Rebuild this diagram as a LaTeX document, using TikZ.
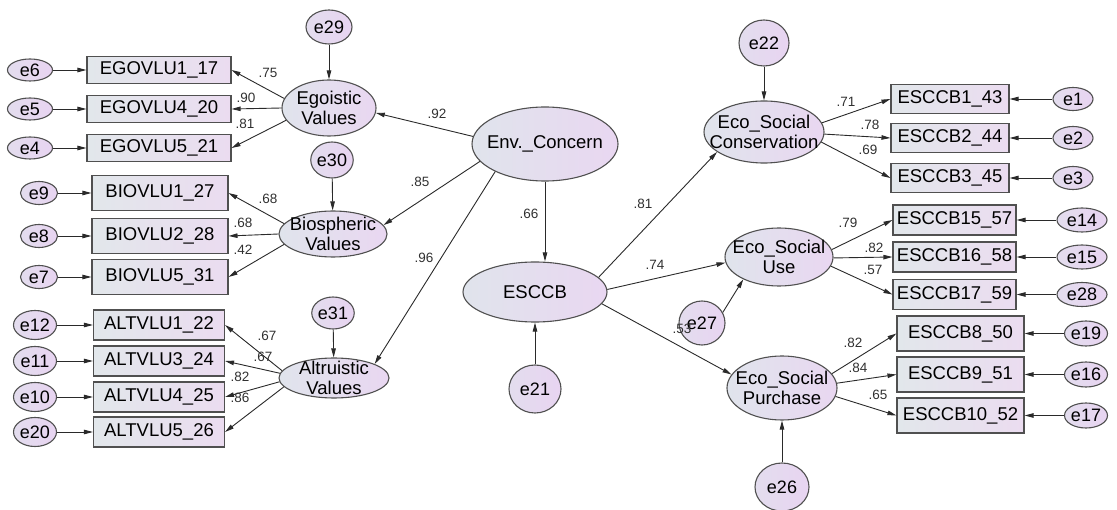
\documentclass[tikz,border=0pt]{standalone}
\usepackage{fontspec}
\setmainfont{Liberation Sans}
\usetikzlibrary{shapes.geometric,arrows.meta}

\definecolor{boxL}{HTML}{E2E7EB}
\definecolor{boxR}{HTML}{EBDCF0}
\definecolor{latL}{HTML}{E0E4EC}
\definecolor{latR}{HTML}{E9D7F1}
\definecolor{errL}{HTML}{E3DDEE}
\definecolor{errR}{HTML}{E8D4F1}
\definecolor{bordC}{HTML}{505050}
\definecolor{lineC}{HTML}{2A2A2A}
\definecolor{coefC}{HTML}{303030}

\tikzset{
  path/.style={draw=lineC, line width=0.9pt, -{Triangle[length=9pt,width=4.5pt]}},
  obsbox/.style={rectangle, draw=bordC, line width=1.1pt, left color=boxL, right color=boxR,
    inner sep=0pt, font=\fontsize{18.5}{20}\selectfont},
  latent/.style={ellipse, draw=bordC, line width=1.1pt, left color=latL, right color=latR, inner sep=0pt},
  lname/.style={align=center, inner sep=0pt, font=\fontsize{18.5}{20}\selectfont},
  errc/.style={ellipse, draw=bordC, line width=1.1pt, left color=errL, right color=errR,
    inner sep=0pt, font=\fontsize{18}{20}\selectfont},
  coef/.style={inner sep=0pt, text=coefC, font=\fontsize{13.5}{15}\selectfont},
}

\begin{document}
\begin{tikzpicture}[x=1pt,y=-1pt]
\useasboundingbox (0,0) rectangle (1117,510);

% ---------- latent variables ----------
\node[latent, minimum width=94pt, minimum height=56pt, label={[lname]center:{Egoistic\\Values}}] (ego) at (329,108) {};
\node[latent, minimum width=108pt, minimum height=46pt, label={[lname]center:{Biospheric\\Values}}] (bio) at (333,234) {};
\node[latent, minimum width=110pt, minimum height=40pt, label={[lname]center:{Altruistic\\Values}}] (alt) at (334,378) {};
\node[latent, minimum width=146pt, minimum height=74pt, label={[lname]center:{Env.\_Concern}}] (env) at (545,144) {};
\node[latent, minimum width=144pt, minimum height=60pt, label={[lname]center:{ESCCB}}] (esccb) at (535,292) {};
\node[latent, minimum width=120pt, minimum height=62pt, label={[lname]center:{Eco\_Social\\Conservation}}] (cons) at (764,132) {};
\node[latent, minimum width=108pt, minimum height=58pt, label={[lname]center:{Eco\_Social\\Use}}] (use) at (779,257) {};
\node[latent, minimum width=110pt, minimum height=64pt, label={[lname]center:{Eco\_Social\\Purchase}}] (pur) at (782,388) {};

% ---------- egoistic indicators ----------
\begin{scope}[every node/.append style={minimum width=144pt, minimum height=27pt}]
  \node[obsbox] (g1) at (159,70)  {EGOVLU1\_17};
  \node[obsbox] (g2) at (159,109) {EGOVLU4\_20};
  \node[obsbox] (g3) at (159,148) {EGOVLU5\_21};
\end{scope}
\begin{scope}[every node/.append style={minimum width=45pt, minimum height=22pt}]
  \node[errc] (e6) at (30,70)  {e6};
  \node[errc] (e5) at (30,109) {e5};
  \node[errc] (e4) at (30,148) {e4};
\end{scope}
\node[errc, minimum width=46pt, minimum height=34pt] (e29) at (329,27) {e29};

% ---------- biospheric indicators ----------
\begin{scope}[every node/.append style={minimum width=136pt, minimum height=35pt}]
  \node[obsbox] (b1) at (160,193) {BIOVLU1\_27};
  \node[obsbox] (b2) at (160,236) {BIOVLU2\_28};
  \node[obsbox] (b3) at (160,277) {BIOVLU5\_31};
\end{scope}
\begin{scope}[every node/.append style={minimum width=37pt, minimum height=23pt}]
  \node[errc] (e9) at (39,193) {e9};
  \node[errc] (e8) at (39,236) {e8};
  \node[errc] (e7) at (39,277) {e7};
\end{scope}
\node[errc, minimum width=39pt, minimum height=36pt] (e30) at (332,160) {e30};

% ---------- altruistic indicators ----------
\begin{scope}[every node/.append style={minimum width=131pt, minimum height=30pt}]
  \node[obsbox] (a1) at (159,325) {ALTVLU1\_22};
  \node[obsbox] (a3) at (159,361) {ALTVLU3\_24};
  \node[obsbox] (a4) at (159,397) {ALTVLU4\_25};
  \node[obsbox] (a5) at (159,432) {ALTVLU5\_26};
\end{scope}
\begin{scope}[every node/.append style={minimum width=43pt, minimum height=29pt}]
  \node[errc] (e12) at (35,325) {e12};
  \node[errc] (e11) at (35,361) {e11};
  \node[errc] (e10) at (35,397) {e10};
  \node[errc] (e20) at (35,432) {e20};
\end{scope}
\node[errc, minimum width=34pt, minimum height=32pt] (e31) at (333,313) {e31};

% ---------- structural disturbances ----------
\node[errc, minimum width=52pt, minimum height=48pt] (e21) at (535,389) {e21};
\node[errc, minimum width=50pt, minimum height=46pt] (e22) at (764,43) {e22};
\node[errc, minimum width=54pt, minimum height=48pt] (e26) at (782,487) {e26};
\node[errc, minimum width=46pt, minimum height=44pt] (e27) at (702,323) {e27};

% ---------- conservation indicators ----------
\begin{scope}[every node/.append style={minimum width=118pt, minimum height=29pt}]
  \node[obsbox] (c1) at (950,99)  {ESCCB1\_43};
  \node[obsbox] (c2) at (950,138) {ESCCB2\_44};
  \node[obsbox] (c3) at (950,178) {ESCCB3\_45};
\end{scope}
\begin{scope}[every node/.append style={minimum width=40pt, minimum height=23pt}]
  \node[errc] (e1) at (1073,99)  {e1};
  \node[errc] (e2) at (1073,138) {e2};
  \node[errc] (e3) at (1073,178) {e3};
\end{scope}

% ---------- use indicators ----------
\begin{scope}[every node/.append style={minimum width=123pt, minimum height=30pt}]
  \node[obsbox] (u1) at (954.5,220)   {ESCCB15\_57};
  \node[obsbox] (u2) at (954.5,257)   {ESCCB16\_58};
  \node[obsbox] (u3) at (954.5,294.5) {ESCCB17\_59};
\end{scope}
\begin{scope}[every node/.append style={minimum width=50pt, minimum height=24pt}]
  \node[errc] (e14) at (1082,220)   {e14};
  \node[errc] (e15) at (1082,257)   {e15};
  \node[errc] (e28) at (1082,294.5) {e28};
\end{scope}

% ---------- purchase indicators ----------
\begin{scope}[every node/.append style={minimum width=127pt, minimum height=35pt}]
  \node[obsbox] (p1) at (960.5,333.5) {ESCCB8\_50};
  \node[obsbox] (p2) at (960.5,374.5) {ESCCB9\_51};
  \node[obsbox] (p3) at (960.5,415.5) {ESCCB10\_52};
\end{scope}
\begin{scope}[every node/.append style={minimum width=43pt, minimum height=25pt}]
  \node[errc] (e19) at (1086,333.5) {e19};
  \node[errc] (e16) at (1086,374.5) {e16};
  \node[errc] (e17) at (1086,415.5) {e17};
\end{scope}

% ---------- measurement paths ----------
\draw[path] (e6) -- (g1);  \draw[path] (e5) -- (g2);  \draw[path] (e4) -- (g3);
\draw[path] (ego.168) -- (g1.east);
\draw[path] (ego.180) -- (g2.east);
\draw[path] (ego.196) -- (g3.east);
\draw[path] (e29) -- (ego);

\draw[path] (e9) -- (b1);  \draw[path] (e8) -- (b2);  \draw[path] (e7) -- (b3);
\draw[path] (bio.168) -- (b1.east);
\draw[path] (bio.180) -- (b2.east);
\draw[path] (bio.192) -- (b3.east);
\draw[path] (e30) -- (bio);

\draw[path] (e12) -- (a1); \draw[path] (e11) -- (a3);
\draw[path] (e10) -- (a4); \draw[path] (e20) -- (a5);
\draw[path] (alt.172) -- (a1.east);
\draw[path] (alt.175) -- (a3.east);
\draw[path] (alt.184) -- (a4.east);
\draw[path] (alt.190) -- (a5.east);
\draw[path] (e31) -- (alt);

\draw[path] (cons.9)   -- (c1.west);
\draw[path] (cons.358) -- (c2.west);
\draw[path] (cons.350) -- (c3.west);
\draw[path] (e1) -- (c1); \draw[path] (e2) -- (c2); \draw[path] (e3) -- (c3);
\draw[path] (e22) -- (cons);

\draw[path] (use.8)   -- (u1.west);
\draw[path] (use.359) -- (u2.west);
\draw[path] (use.350) -- (u3.west);
\draw[path] (e14) -- (u1); \draw[path] (e15) -- (u2); \draw[path] (e28) -- (u3);

\draw[path] (pur.16)  -- (p1.west);
\draw[path] (pur.5)   -- (p2.west);
\draw[path] (pur.351) -- (p3.west);
\draw[path] (e19) -- (p1); \draw[path] (e16) -- (p2); \draw[path] (e17) -- (p3);
\draw[path] (e26) -- (pur);

% ---------- structural paths ----------
\draw[path] (env.174) -- (ego.354);
\draw[path] (env.195) -- (bio.10);
\draw[path] (env.209) -- (alt.19);
\draw[path] (env.south) -- (env.south |- esccb.north);
\draw[path] (e21) -- (esccb);
\draw[path] (esccb.13)  -- (cons.203);
\draw[path] (esccb.2)   -- (use.186);
\draw[path] (esccb.350) -- (pur.165);
\draw[path] (e27.27) -- (use.212);

% ---------- standardized estimates ----------
\node[coef] (k1)  at (268,73)  {.75};
\node[coef] (k2)  at (246,98)  {.90};
\node[coef] (k3)  at (245,124) {.81};
\node[coef] (k4)  at (268,199) {.68};
\node[coef] (k5)  at (243,223) {.68};
\node[coef] (k6)  at (243,250) {.42};
\node[coef] (k7)  at (267,336) {.67};
\node[coef] (k8)  at (263,357) {.67};
\node[coef] (k9)  at (240,377) {.82};
\node[coef] (k10) at (240,398) {.86};
\node[coef] (k11) at (437,114) {.92};
\node[coef] (k12) at (420,182) {.85};
\node[coef] (k13) at (424,258) {.96};
\node[coef] (k14) at (529,214) {.66};
\node[coef] (k15) at (643,204) {.81};
\node[coef] (k16) at (655,265) {.74};
\node[coef] (k17) at (682,329) {.53};
\node[coef] (k18) at (846,102) {.71};
\node[coef] (k19) at (870,125) {.78};
\node[coef] (k20) at (868,150) {.69};
\node[coef] (k21) at (848,223) {.79};
\node[coef] (k22) at (874,248) {.82};
\node[coef] (k23) at (873,270) {.57};
\node[coef] (k24) at (853,343) {.82};
\node[coef] (k25) at (858,368) {.84};
\node[coef] (k26) at (878,395) {.65};
\end{tikzpicture}
\end{document}
